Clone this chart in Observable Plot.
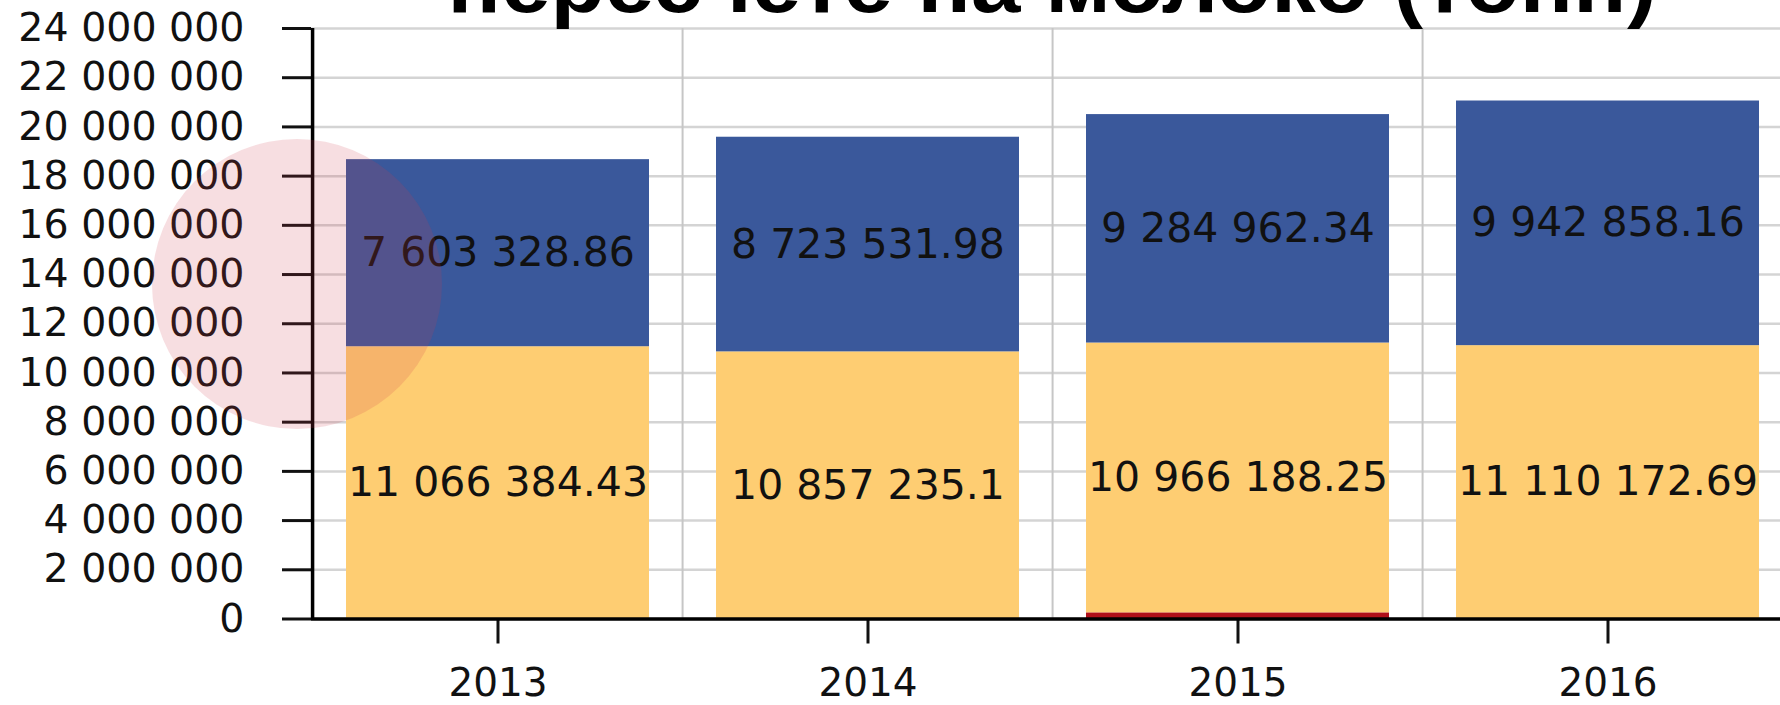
<!DOCTYPE html>
<html><head><meta charset="utf-8">
<script src="https://cdn.jsdelivr.net/npm/d3@7"></script>
<script src="https://cdn.jsdelivr.net/npm/@observablehq/plot@0.6"></script>
<style>
html,body{margin:0;padding:0;background:#fff;overflow:hidden;}
#wrap{position:relative;width:1780px;height:705px;overflow:hidden;background:#fff;}
#title{position:absolute;left:0;top:0;}
#chart{position:absolute;left:0;top:0;}
#wm{position:absolute;left:152px;top:139px;width:290px;height:290px;border-radius:50%;background:rgba(205,60,75,0.17);pointer-events:none;}
</style></head>
<body>
<div id="wrap">
  <div id="chart"></div>
  <svg id="title" width="1780" height="60"><text x="1052" y="12" text-anchor="middle" font-family="Liberation Sans" font-weight="bold" font-size="84" textLength="1209" lengthAdjust="spacingAndGlyphs" fill="#000">пересчете на молоко (тонн)</text></svg>
  <div id="wm"></div>
</div>
<script>
const years = ["2013", "2014", "2015", "2016"];
const seriesNames = ["other", "bottom", "top"];
const seriesColors = ["#B0101A", "#FECD72", "#3A589B"];
const otherValues = [0, 0, 250000, 0];
const bottomValues = [11066384.43, 10857235.1, 10966188.25, 11110172.69];
const topValues = [7603328.86, 8723531.98, 9284962.34, 9942858.16];
const yTicks = [0, 2e6, 4e6, 6e6, 8e6, 10e6, 12e6, 14e6, 16e6, 18e6, 20e6, 22e6, 24e6];

const table = [];
years.forEach((y, i) => {
  table.push({year: y, series: "other", value: otherValues[i]});
  table.push({year: y, series: "bottom", value: bottomValues[i]});
  table.push({year: y, series: "top", value: topValues[i]});
});

const loc = d3.formatLocale({decimal: ".", thousands: " ", grouping: [3], currency: ["", ""]});
const fmtTick = loc.format(",");
const fmtVal = loc.format(",.2~f");

const xRange = [311, 1794.4];
const step = (xRange[1] - xRange[0]) / years.length;

const chart = Plot.plot({
  width: 1780, height: 705,
  marginLeft: 311, marginRight: 0, marginTop: 28, marginBottom: 86.5,
  style: {fontFamily: "DejaVu Sans", fontSize: "39px", color: "#111", background: "transparent", overflow: "visible"},
  x: {domain: years, range: xRange, paddingInner: 0.18, paddingOuter: 0.09, label: null},
  y: {domain: [0, 24e6], label: null},
  color: {domain: seriesNames, range: seriesColors},
  marks: [
    Plot.ruleY(yTicks, {stroke: "#d4d4d4", strokeWidth: 2.5}),
    Plot.ruleX(years.slice(1), {x: d => d, dx: -step / 2, y1: 0, y2: 24e6, stroke: "#c6c6c6", strokeWidth: 2}),
    Plot.barY(table, Plot.stackY({x: "year", y: "value", fill: "series", order: seriesNames})),
    Plot.text(table, Plot.stackY({x: "year", y: "value", z: "series", order: seriesNames,
      text: d => d.series === "other" ? null : fmtVal(d.value), fontSize: 41, fill: "#111"})),
    Plot.axisY({ticks: yTicks, tickFormat: fmtTick, tickSize: 29, tickPadding: 38, strokeWidth: 3, fontSize: 39.5}),
    Plot.axisX({tickSize: 25, tickPadding: 24, strokeWidth: 3, fontSize: 39}),
    Plot.ruleX([years[0]], {x: d => d, dx: -step / 2, y1: 0, y2: 24e6, stroke: "#000", strokeWidth: 3.5}),
    Plot.ruleY([0], {stroke: "#000", strokeWidth: 3.5})
  ]
});
document.getElementById("chart").appendChild(chart);
</script>
</body></html>
